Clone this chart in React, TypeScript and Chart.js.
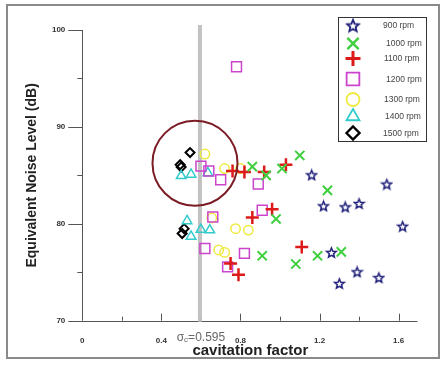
import React, { useEffect, useRef } from "react";
import { Chart, registerables } from "chart.js";
import * as helpers from "chart.js/helpers";

Chart.register(...registerables);

// ---- data ----
const seriesNames = ["900 rpm", "1000 rpm", "1100 rpm", "1200 rpm", "1300 rpm", "1400 rpm", "1500 rpm"];
const rpm900: [number, number][] = [[1.16, 85.05], [1.54, 84.1], [1.22, 81.85], [1.33, 81.75], [1.40, 82.1], [1.62, 79.75], [1.26, 77.05], [1.39, 75.05], [1.50, 74.45], [1.30, 73.85]];
const rpm1000: [number, number][] = [[0.86, 85.9], [0.93, 85.0], [1.01, 85.7], [1.10, 87.05], [1.24, 83.45], [0.98, 80.5], [0.91, 76.7], [1.08, 75.85], [1.19, 76.7], [1.31, 77.1]];
const rpm1100: [number, number][] = [[0.76, 85.45], [0.82, 85.35], [0.92, 85.35], [1.03, 86.1], [0.86, 80.65], [0.96, 81.5], [1.11, 77.6], [0.75, 75.9], [0.79, 74.75]];
const rpm1200: [number, number][] = [[0.78, 96.2], [0.60, 85.95], [0.64, 85.45], [0.70, 84.55], [0.89, 84.1], [0.91, 81.4], [0.66, 80.7], [0.62, 77.45], [0.82, 76.95], [0.735, 75.55]];
const rpm1300: [number, number][] = [[0.62, 87.2], [0.72, 85.7], [0.80, 85.7], [0.775, 79.5], [0.84, 79.35], [0.69, 77.3], [0.72, 77.05], [0.655, 80.6]];
const rpm1400: [number, number][] = [[0.50, 84.95], [0.55, 85.1], [0.635, 85.25], [0.53, 80.3], [0.55, 78.7], [0.60, 79.4], [0.645, 79.35]];
const rpm1500: [number, number][] = [[0.545, 87.35], [0.495, 86.1], [0.50, 85.85], [0.515, 79.5], [0.505, 79.0]];
const xTickLabels = ["0", "0.4", "0.8", "1.2", "1.6"];
const yTickLabels = ["70", "80", "90", "100"];
const sigmaC = 0.595;
const circleCenter: [number, number] = [0.57, 86.26];

const FONT = "'Liberation Sans', Arial, sans-serif";

function makeStar(size: number, lw: number) {
  const c = document.createElement("canvas");
  c.width = size;
  c.height = size;
  const ctx = c.getContext("2d")!;
  const cx = size / 2, cy = size / 2 + size * 0.04;
  const R = size / 2 - lw, r = R * 0.45;
  ctx.beginPath();
  for (let i = 0; i < 10; i++) {
    const a = -Math.PI / 2 + (i * Math.PI) / 5;
    const rad = i % 2 === 0 ? R : r;
    const px = cx + rad * Math.cos(a), py = cy + rad * Math.sin(a);
    if (i === 0) ctx.moveTo(px, py);
    else ctx.lineTo(px, py);
  }
  ctx.closePath();
  ctx.fillStyle = "#ffffff";
  ctx.fill();
  ctx.lineWidth = lw;
  ctx.strokeStyle = "#1f1f7a";
  ctx.stroke();
  return c;
}

export default function App() {
  const ref = useRef<HTMLCanvasElement>(null);
  useEffect(() => {
    document.body.style.margin = "0";
    const star = makeStar(13, 1.5);
    const starBig = makeStar(16, 1.8);
    const styles = [
      { pointStyle: star as any, color: "#1f1f7a", radius: 6, bw: 1.5, fill: "#ffffff", lr: 8, lstyle: starBig as any },
      { pointStyle: "crossRot", color: "#3fcf3f", radius: 6.5, bw: 2, fill: "#3fcf3f", lr: 8, lstyle: "crossRot" },
      { pointStyle: "cross", color: "#dd1a1a", radius: 6.5, bw: 2.5, fill: "#dd1a1a", lr: 7.5, lstyle: "cross" },
      { pointStyle: "rect", color: "#cc44cc", radius: 7, bw: 1.5, fill: "rgba(0,0,0,0)", lr: 9, lstyle: "rect" },
      { pointStyle: "circle", color: "#eeea40", radius: 4.7, bw: 1.5, fill: "rgba(0,0,0,0)", lr: 6.5, lstyle: "circle" },
      { pointStyle: "triangle", color: "#33cccc", radius: 5.5, bw: 1.5, fill: "rgba(0,0,0,0)", lr: 7.5, lstyle: "triangle" },
      { pointStyle: "rectRot", color: "#000000", radius: 4.5, bw: 2, fill: "rgba(0,0,0,0)", lr: 6.5, lstyle: "rectRot" },
    ];
    const allData = [rpm900, rpm1000, rpm1100, rpm1200, rpm1300, rpm1400, rpm1500];

    const decor = {
      id: "decor",
      beforeDraw(chart: any) {
        const ctx = chart.ctx;
        ctx.save();
        ctx.fillStyle = "#ffffff";
        ctx.fillRect(0, 0, chart.width, chart.height);
        ctx.strokeStyle = "#8a8a8a";
        ctx.lineWidth = 2;
        ctx.strokeRect(7, 5, 432, 353);
        ctx.restore();
      },
      beforeDatasetsDraw(chart: any) {
        const ctx = chart.ctx;
        const xs = chart.scales.x, ys = chart.scales.y;
        const x0 = xs.getPixelForValue(0);
        const y0 = ys.getPixelForValue(70);
        ctx.save();
        ctx.strokeStyle = "#555555";
        ctx.lineWidth = 1;
        // axis lines
        ctx.beginPath();
        ctx.moveTo(x0 - 10.5, Math.round(y0) + 0.5);
        ctx.lineTo(xs.right - 1, Math.round(y0) + 0.5);
        ctx.moveTo(Math.round(x0) + 0.5, ys.getPixelForValue(100));
        ctx.lineTo(Math.round(x0) + 0.5, y0);
        // y ticks
        ys.ticks.forEach((t: any) => {
          const py = Math.round(ys.getPixelForValue(t.value)) + 0.5;
          const major = yTickLabels.includes(String(t.value));
          ctx.moveTo(x0 - (major ? 14 : 5), py);
          ctx.lineTo(x0, py);
        });
        // x ticks (inward)
        xs.ticks.forEach((t: any) => {
          const v = Math.round(t.value * 10) / 10;
          if (v === 0) return;
          const px = Math.round(xs.getPixelForValue(t.value)) + 0.5;
          const major = xTickLabels.includes(String(v));
          ctx.moveTo(px, y0);
          ctx.lineTo(px, y0 - (major ? 7 : 4));
        });
        ctx.stroke();
        // sigma line
        const sx = xs.getPixelForValue(sigmaC);
        ctx.strokeStyle = "#c2c2c2";
        ctx.lineWidth = 4;
        ctx.beginPath();
        ctx.moveTo(sx, 25);
        ctx.lineTo(sx, y0 + 1);
        ctx.stroke();
        // sigma label
        ctx.fillStyle = "#666666";
        ctx.textBaseline = "alphabetic";
        ctx.font = `12px ${FONT}`;
        const w1 = ctx.measureText("σ").width;
        ctx.font = `8px ${FONT}`;
        const w2 = ctx.measureText("c").width;
        ctx.font = `12px ${FONT}`;
        const w3 = ctx.measureText("=0.595").width;
        let tx = sx + 1 - (w1 + w2 + w3) / 2;
        const by = 341;
        ctx.fillText("σ", tx, by);
        tx += w1;
        ctx.font = `8px ${FONT}`;
        ctx.fillText("c", tx, by + 1);
        tx += w2;
        ctx.font = `12px ${FONT}`;
        ctx.fillText("=0.595", tx, by);
        ctx.restore();
      },
      afterDatasetsDraw(chart: any) {
        const ctx = chart.ctx;
        const xs = chart.scales.x, ys = chart.scales.y;
        ctx.save();
        // circle annotation
        ctx.strokeStyle = "#7b1c25";
        ctx.lineWidth = 2;
        ctx.beginPath();
        ctx.arc(xs.getPixelForValue(circleCenter[0]), ys.getPixelForValue(circleCenter[1]), 42.5, 0, Math.PI * 2);
        ctx.stroke();
        // legend
        ctx.fillStyle = "#ffffff";
        ctx.fillRect(338.5, 17.5, 88, 124);
        ctx.strokeStyle = "#333333";
        ctx.lineWidth = 1;
        ctx.strokeRect(338.5, 17.5, 88, 124);
        const rows = [25.5, 43.5, 58.5, 79, 99.5, 116.5, 133];
        const textX = [383, 386, 384, 386, 384, 385, 383];
        seriesNames.forEach((name, i) => {
          const s = styles[i];
          ctx.strokeStyle = s.color;
          ctx.fillStyle = s.fill;
          ctx.lineWidth = s.bw * 1.2;
          helpers.drawPoint(ctx, { pointStyle: s.lstyle, radius: s.lr, borderWidth: s.bw * 1.2, rotation: 0 }, 353, rows[i]);
          ctx.fillStyle = "#444444";
          ctx.font = `8.5px ${FONT}`;
          ctx.textBaseline = "middle";
          ctx.fillText(name, textX[i], rows[i] + 0.5);
        });
        ctx.restore();
      },
    };

    const chart = new Chart(ref.current!, {
      type: "scatter",
      data: {
        datasets: allData.map((d, i) => ({
          label: seriesNames[i],
          data: d.map(([x, y]) => ({ x, y })),
          pointStyle: styles[i].pointStyle,
          pointRadius: styles[i].radius,
          pointHoverRadius: styles[i].radius,
          borderColor: styles[i].color,
          backgroundColor: styles[i].fill,
          pointBorderWidth: styles[i].bw,
          borderWidth: styles[i].bw,
        })),
      },
      options: {
        animation: false,
        responsive: false,
        devicePixelRatio: 1,
        layout: { padding: { left: 0, top: 30, right: 28.6, bottom: 0 } },
        plugins: { legend: { display: false }, tooltip: { enabled: false } },
        scales: {
          x: {
            type: "linear",
            min: 0,
            max: 1.7,
            grid: { display: false, drawTicks: false },
            border: { display: false },
            ticks: {
              stepSize: 0.2,
              includeBounds: false,
              autoSkip: false,
              maxRotation: 0,
              padding: 15,
              color: "#333333",
              font: { family: FONT, size: 8, weight: "bold" },
              callback: (v: any) => {
                const s = String(Math.round(Number(v) * 10) / 10);
                return xTickLabels.includes(s) ? s : "";
              },
            },
            title: {
              display: true,
              text: "cavitation factor",
              color: "#222222",
              font: { family: FONT, size: 15, weight: "bold" },
              padding: { top: 0, bottom: 9 },
            },
            afterFit: (s: any) => { s.height = 48.3; },
          },
          y: {
            type: "linear",
            min: 70,
            max: 100,
            grid: { display: false, drawTicks: false },
            border: { display: false },
            ticks: {
              stepSize: 5,
              autoSkip: false,
              padding: 17,
              color: "#333333",
              font: { family: FONT, size: 8, weight: "bold" },
              callback: (v: any) => (yTickLabels.includes(String(v)) ? String(v) : ""),
            },
            title: {
              display: true,
              text: "Equivalent Noise Level (dB)",
              color: "#222222",
              font: { family: FONT, size: 14, weight: "bold" },
              padding: { top: 23.6, bottom: 0 },
            },
            afterFit: (s: any) => { s.width = 82.3; },
          },
        },
      },
      plugins: [decor],
    } as any);
    return () => chart.destroy();
  }, []);
  return (
    <div style={{ width: 447, height: 369 }}>
      <canvas ref={ref} width={447} height={369} style={{ display: "block", width: 447, height: 369 }} />
    </div>
  );
}
